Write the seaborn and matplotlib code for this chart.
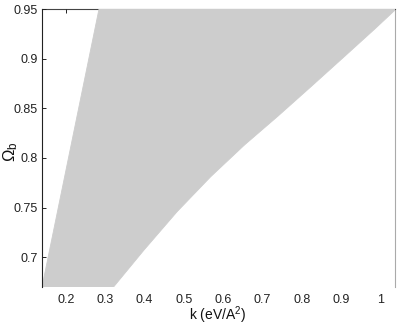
import numpy as np
import matplotlib
matplotlib.use("Agg")
import matplotlib.pyplot as plt
import seaborn as sns
import pandas as pd

# Data
omega_left = [0.67, 0.95]
k_left = [0.139, 0.284]
omega_right = [0.670, 0.707, 0.746, 0.781, 0.813, 0.842, 0.872, 0.902, 0.930, 0.950]
k_right = [0.321, 0.398, 0.483, 0.568, 0.654, 0.739, 0.824, 0.908, 0.986, 1.040]
xticks = [0.2, 0.3, 0.4, 0.5, 0.6, 0.7, 0.8, 0.9, 1.0]
xtick_labels = ["0.2", "0.3", "0.4", "0.5", "0.6", "0.7", "0.8", "0.9", "1"]
yticks = [0.7, 0.75, 0.8, 0.85, 0.9, 0.95]
ytick_labels = ["0.7", "0.75", "0.8", "0.85", "0.9", "0.95"]

sns.set_theme(style="white")
plt.rcParams["font.family"] = ["Liberation Sans", "DejaVu Sans"]
plt.rcParams["mathtext.fontset"] = "custom"
plt.rcParams["mathtext.rm"] = "Liberation Sans"
plt.rcParams["mathtext.it"] = "Liberation Sans"

fig = plt.figure(figsize=(3.99, 3.23), dpi=100)
ax = fig.add_axes([42 / 399, (323 - 287) / 323, (395 - 42) / 399, (287 - 9) / 323])

fill = "#cdcdcd"
poly_k = list(k_left) + list(k_right[::-1])
poly_o = list(omega_left) + list(omega_right[::-1])
ax.fill(poly_k, poly_o, color=fill, linewidth=0, zorder=1)
df_l = pd.DataFrame({"k": k_left, "omega": omega_left})
df_r = pd.DataFrame({"k": k_right, "omega": omega_right})
sns.lineplot(data=df_l, x="k", y="omega", sort=False, orient="y", color=fill, lw=0.6, ax=ax, zorder=1)
sns.lineplot(data=df_r, x="k", y="omega", sort=False, orient="y", color=fill, lw=0.6, ax=ax, zorder=1)

ax.set_xlim(0.139, 1.037)
ax.set_ylim(0.67, 0.95)
ax.set_xticks(xticks)
ax.set_xticklabels(xtick_labels)
ax.set_yticks(yticks)
ax.set_yticklabels(ytick_labels)

for s in ax.spines.values():
    s.set_linewidth(0.8)
ax.spines["left"].set_color("#222222")
ax.spines["left"].set_zorder(3)
ax.spines["top"].set_color("#444444")
ax.spines["top"].set_zorder(0)
ax.spines["right"].set_color("#aaaaaa")
ax.spines["right"].set_zorder(0)
ax.spines["bottom"].set_visible(False)

ax.tick_params(axis="both", direction="in", length=3, width=0.7, colors="#222222",
               labelsize=9, labelcolor="#222222", pad=3)
ax.tick_params(axis="x", bottom=False, top=True, labelbottom=True, pad=5)
ax.tick_params(axis="y", left=True, right=False)
ax.set_axisbelow(True)

ax.set_xlabel("k (eV/A$^2$)", fontsize=10, color="#111111")
ax.xaxis.set_label_coords((218 - 42) / 353, -(315 - 287) / 278)
ax.xaxis.label.set_va("center")
ax.set_ylabel(r"$\Omega_{\rm b}$", fontsize=12, color="#111111")
ax.yaxis.set_label_coords(-(42 - 11) / 353, (287 - 152) / 278)
ax.yaxis.label.set_va("center")

fig.savefig("out.png", dpi=100)
